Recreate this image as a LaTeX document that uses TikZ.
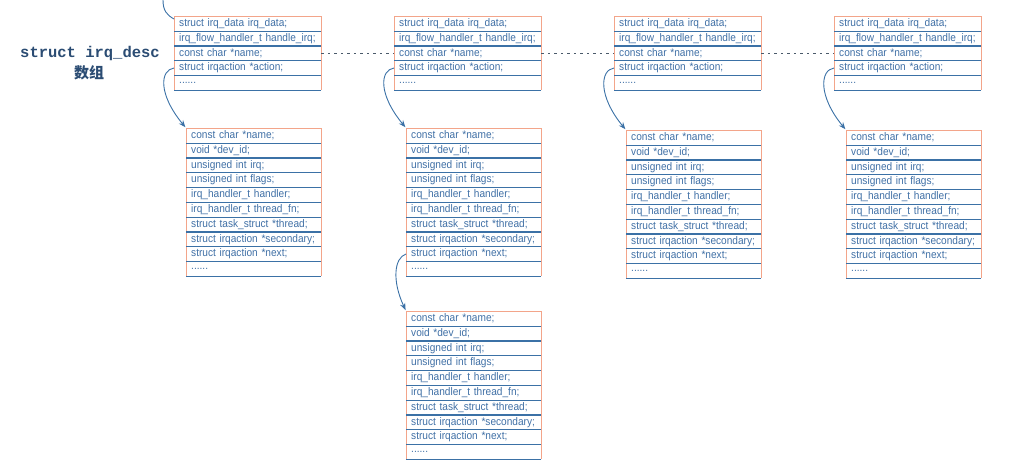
\documentclass[tikz,border=0pt]{standalone}
\usepackage{fontspec}
\setmainfont{Liberation Sans}
\newfontfamily\fieldfont[FakeStretch=0.92]{Liberation Sans}
\newfontfamily\labelmono{Liberation Mono}
\newfontfamily\labelcjk{Noto Sans CJK SC}
\usetikzlibrary{arrows.meta}

\definecolor{fieldblue}{HTML}{3F6FA5}
\definecolor{rowblue}{HTML}{3B71A6}
\definecolor{boxorange}{HTML}{F3A58A}
\definecolor{labelblue}{HTML}{2B4C73}
\definecolor{dotgray}{HTML}{4A5A6A}

\newcommand{\moredots}{......}

\tikzset{
  field/.style={anchor=north west, inner xsep=5pt, inner ysep=0pt, minimum height=14.8pt,
    align=left, text=fieldblue, font=\fieldfont\fontsize{11}{12}\selectfont},
  rowline/.style={rowblue, line width=1.2pt},
  boxline/.style={boxorange, line width=1pt},
  link/.style={rowblue, line width=0.9pt, -{Stealth[length=7pt,width=5.5pt]}, shorten >=1pt},
  dots/.style={dotgray, line width=0.8pt, dash pattern=on 2.5pt off 4pt},
}

\begin{document}
\begin{tikzpicture}[x=1pt, y=-1pt]
  \useasboundingbox (0,0) rectangle (1024,469);
  \def\rowh{14.8}

  % the irq_desc array
  \foreach \i/\x in {1/174, 2/394, 3/614, 4/834} {
    \foreach \f [count=\k] in {struct irq\_data irq\_data;, irq\_flow\_handler\_t handle\_irq;,
        const char *name;, struct irqaction *action;, \moredots} {
      \node[field, minimum width=147pt, text width=137pt] (d\i-\k) at (\x, {16+(\k-1)*\rowh}) {\mbox{\f}};
    }
    \draw[boxline] (d\i-5.south west) -- (d\i-1.north west) -- (d\i-1.north east) -- (d\i-5.south east);
    \foreach \k in {1,...,5}
      \draw[rowline] (d\i-\k.south west) -- (d\i-\k.south east);
  }

  % irqaction structs
  \foreach \i/\x/\y in {1/186/128, 2/406/128, 3/626/130, 4/846/130, 5/406/311} {
    \foreach \f [count=\k] in {const char *name;, void *dev\_id;, unsigned int irq;, unsigned int flags;,
        irq\_handler\_t handler;, irq\_handler\_t thread\_fn;, struct task\_struct *thread;,
        struct irqaction *secondary;, struct irqaction *next;, \moredots} {
      \node[field, minimum width=135pt, text width=125pt] (a\i-\k) at (\x, {\y+(\k-1)*\rowh}) {\mbox{\f}};
    }
    \draw[boxline] (a\i-10.south west) -- (a\i-1.north west) -- (a\i-1.north east) -- (a\i-10.south east);
    \foreach \k in {1,...,10}
      \draw[rowline] (a\i-\k.south west) -- (a\i-\k.south east);
  }

  \node[text=labelblue, font=\labelmono\bfseries\fontsize{15.5}{18}\selectfont] (desclabel) at (90,53) {struct irq\_desc};
  \node[text=labelblue, font=\labelcjk\bfseries\fontsize{15}{18}\selectfont] (desctitle) at (89,73) {数组};

  % links
  \coordinate (entry) at (163,0);
  \draw[rowline, line width=0.9pt] (entry) .. controls (163,11) and (167,15) .. ([yshift=-3pt]d1-1.north west);
  \foreach \i in {1,...,4}
    \draw[link] (d\i-4.west) .. controls +(-14,2) and +(-28,-34) .. (a\i-1.north west);
  \draw[link] (a2-9.west) .. controls +(-12,4) and +(-14,-30) .. (a5-1.north west);
  \foreach \i [evaluate=\i as \j using int(\i+1)] in {1,2,3}
    \draw[dots] (d\i-3.east) -- (d\j-3.west);
\end{tikzpicture}
\end{document}
